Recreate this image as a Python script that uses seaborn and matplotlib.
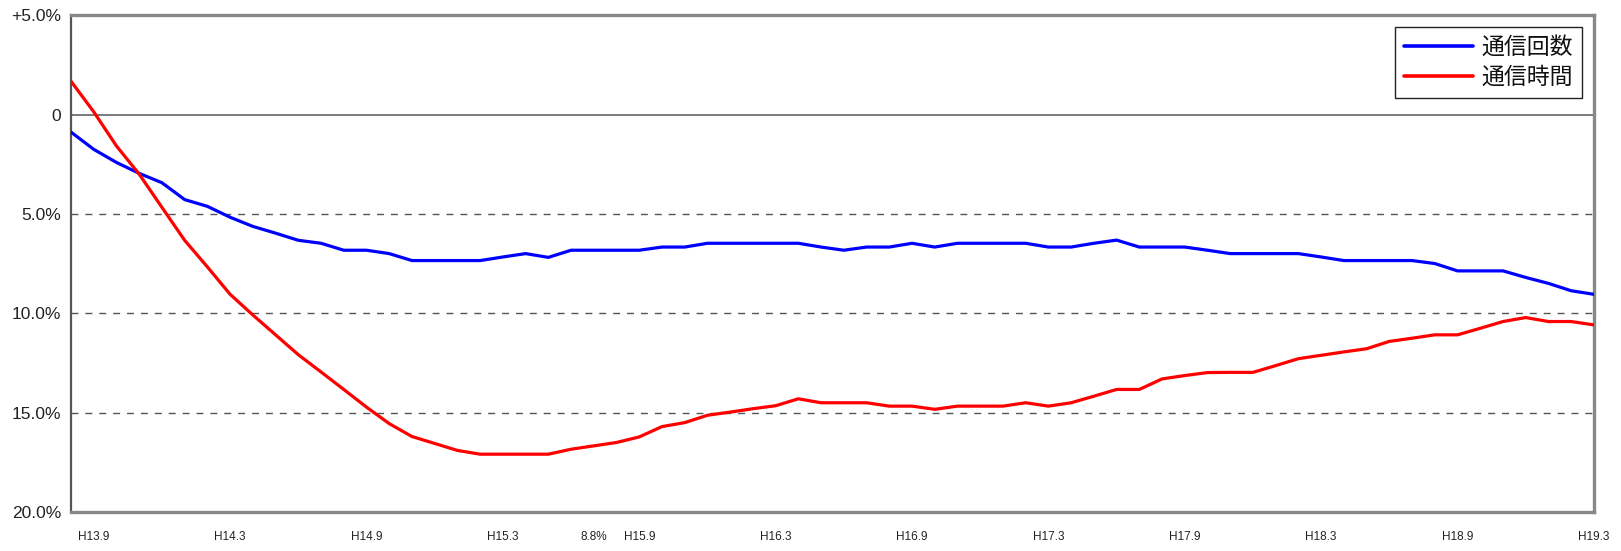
import numpy as np
import pandas as pd
import matplotlib
matplotlib.use("Agg")
import matplotlib.pyplot as plt
import seaborn as sns

# ── data (前年同月比 %, monthly H13.8 – H19.3) ────────────────────────────────
months = list(range(68))
count_pct = [-0.87, -1.74, -2.40, -2.95, -3.42, -4.27, -4.61, -5.16, -5.62, -5.96,
             -6.32, -6.47, -6.82, -6.82, -6.99, -7.34, -7.34, -7.34, -7.34, -7.16,
             -6.99, -7.18, -6.82, -6.82, -6.82, -6.82, -6.66, -6.66, -6.47, -6.47,
             -6.47, -6.47, -6.47, -6.66, -6.82, -6.66, -6.66, -6.47, -6.66, -6.47,
             -6.47, -6.47, -6.47, -6.66, -6.66, -6.47, -6.31, -6.66, -6.66, -6.66,
             -6.82, -6.99, -6.99, -6.99, -6.99, -7.16, -7.34, -7.34, -7.34, -7.34,
             -7.49, -7.86, -7.86, -7.86, -8.19, -8.49, -8.86, -9.04]
time_pct = [1.69, 0.15, -1.57, -2.99, -4.66, -6.32, -7.66, -9.04, -10.08, -11.08,
            -12.08, -12.95, -13.83, -14.72, -15.55, -16.20, -16.55, -16.90, -17.09, -17.09,
            -17.09, -17.09, -16.84, -16.67, -16.50, -16.22, -15.70, -15.50, -15.13, -14.97,
            -14.80, -14.65, -14.30, -14.50, -14.50, -14.50, -14.67, -14.67, -14.83, -14.67,
            -14.67, -14.67, -14.50, -14.67, -14.50, -14.17, -13.83, -13.83, -13.30, -13.13,
            -12.98, -12.97, -12.97, -12.63, -12.28, -12.11, -11.94, -11.78, -11.41, -11.25,
            -11.08, -11.08, -10.75, -10.41, -10.21, -10.41, -10.41, -10.58]
series_names = ["通信回数", "通信時間"]
x_tick_pos = [1, 7, 13, 19, 23, 25, 31, 37, 43, 49, 55, 61, 67]
x_tick_labels = ["H13.9", "H14.3", "H14.9", "H15.3", "8.8%", "H15.9", "H16.3",
                 "H16.9", "H17.3", "H17.9", "H18.3", "H18.9", "H19.3"]
y_tick_pos = [5, 0, -5, -10, -15, -20]
y_tick_labels = ["+5.0%", "0", "5.0%", "10.0%", "15.0%", "20.0%"]

df = pd.DataFrame({
    "month": months * 2,
    "pct": count_pct + time_pct,
    "series": [series_names[0]] * len(months) + [series_names[1]] * len(months),
})

# ── plot ──────────────────────────────────────────────────────────────────────
sns.set_style("white")
plt.rcParams["font.family"] = ["Liberation Sans Narrow", "Liberation Sans",
                               "Noto Sans CJK JP", "DejaVu Sans"]

fig = plt.figure(figsize=(16.21, 5.51), dpi=100)
ax = fig.add_axes([0.0438, 0.0708, 0.9395, 0.9011])

# grid / zero line
for yv in [-5, -10, -15]:
    ax.axhline(yv, color="#555555", linestyle=(0, (5, 5)), linewidth=1.0, zorder=1)
ax.axhline(0, color="#555555", linewidth=1.1, zorder=1)

sns.lineplot(data=df, x="month", y="pct", hue="series",
             palette={"通信回数": "#0000ff", "通信時間": "#ff0000"},
             linewidth=2.3, ax=ax, legend=False, zorder=3)

ax.set_xlim(0, 67)
ax.set_ylim(-20, 5)
ax.set_xlabel("")
ax.set_ylabel("")

ax.set_yticks(y_tick_pos)
ax.set_yticklabels(y_tick_labels, fontsize=12.5, color="#222222")
ax.set_xticks(x_tick_pos)
ax.set_xticklabels(x_tick_labels, fontsize=8.5, color="#222222")
ax.tick_params(axis="y", direction="out", length=5, width=1.2, color="#444444", pad=2)
ax.tick_params(axis="x", length=0, pad=14)

for side in ["top", "bottom", "right"]:
    ax.spines[side].set_color("#888888")
    ax.spines[side].set_linewidth(2.4)
ax.spines["left"].set_color("#555555")
ax.spines["left"].set_linewidth(1.6)

# legend
handles = [plt.Line2D([], [], color="#0000ff", linewidth=2.6),
           plt.Line2D([], [], color="#ff0000", linewidth=2.6)]
leg = ax.legend(handles, series_names, loc="upper right",
                bbox_to_anchor=(0.992, 0.977), fancybox=False, framealpha=1,
                edgecolor="#222222", handlelength=3.0, handletextpad=0.35,
                borderpad=0.4, labelspacing=0.3, borderaxespad=0,
                prop={"family": ["Noto Sans CJK JP", "DejaVu Sans"], "size": 16.5})
leg.get_frame().set_linewidth(1.0)
for t in leg.get_texts():
    t.set_color("#111111")

fig.savefig("out.png", dpi=100)
